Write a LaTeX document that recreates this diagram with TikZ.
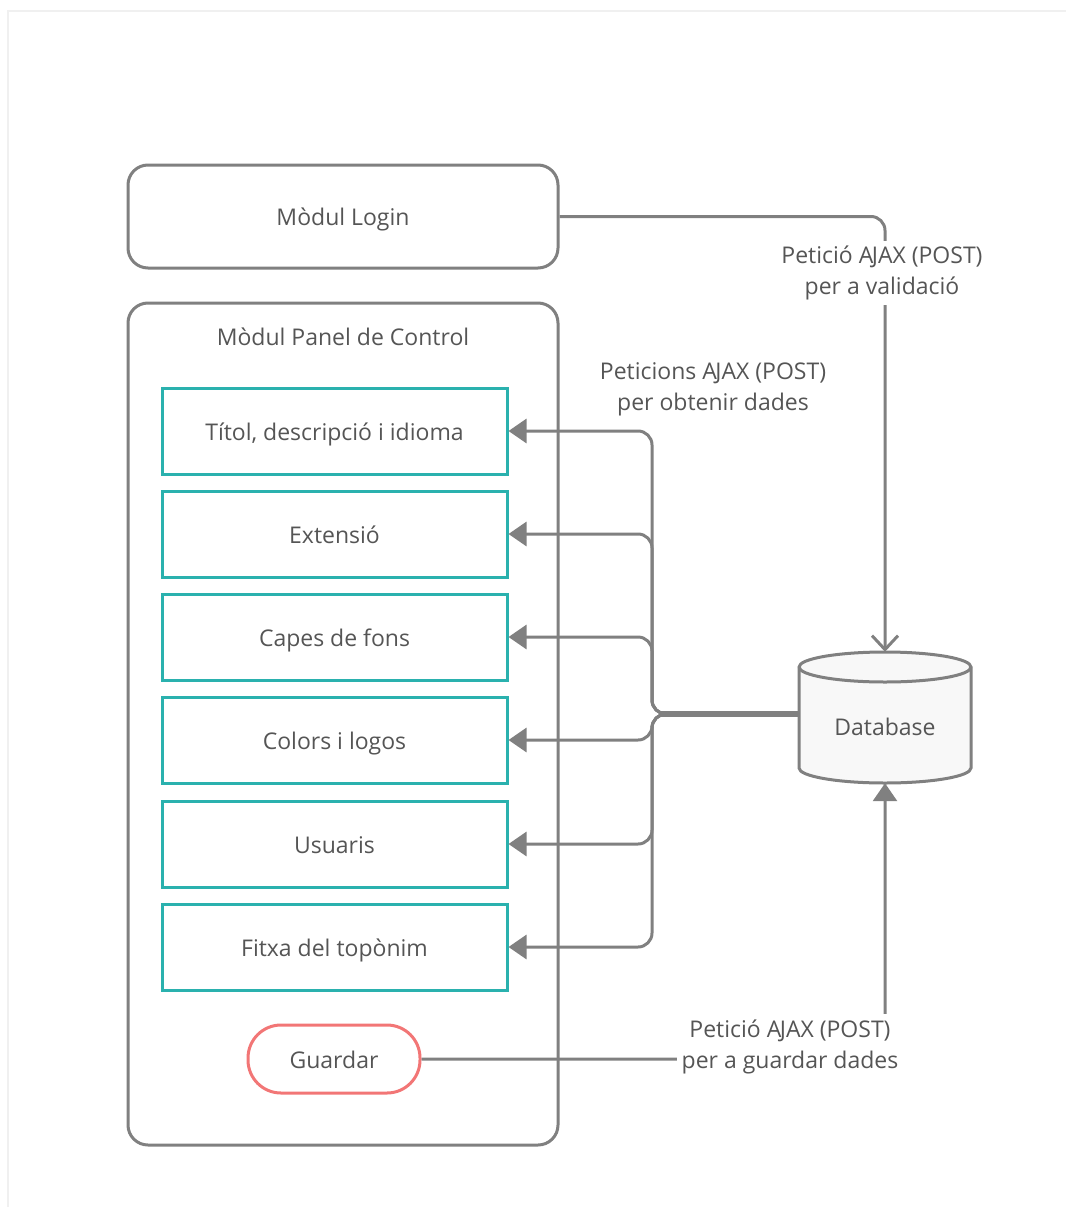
\documentclass[tikz,border=0pt]{standalone}
\usepackage{fontspec}
\setmainfont{Open Sans}
\usetikzlibrary{arrows.meta,calc}
\definecolor{lgray}{HTML}{808080}
\definecolor{tgray}{HTML}{555555}
\definecolor{teal2}{HTML}{2AB1AE}
\definecolor{red2}{HTML}{F27676}
\definecolor{dbfill}{HTML}{F8F8F8}
\definecolor{framec}{HTML}{F0F0F0}
\newcommand{\AJAX}{A\kern-1.5pt JAX}
\begin{document}
\begin{tikzpicture}[x=1pt,y=-1pt,
  fnt/.style={text=tgray,font=\fontsize{23}{31}\selectfont},
  one/.style={fnt,text height=18pt,text depth=0pt},
  txt/.style={fnt,align=center,inner sep=4pt},
  outerbox/.style={draw=lgray,line width=3pt,rounded corners=20pt,minimum width=430pt,inner sep=0pt},
  tealbox/.style={one,draw=teal2,line width=3pt,minimum width=345pt,minimum height=86pt,inner sep=0pt},
  conn/.style={draw=lgray,line width=3pt},
  fillarrow/.style={-{Triangle[length=18pt,width=24pt]}},
  openarrow/.style={-{Straight Barb[length=14pt,width=26pt,line width=3pt]}},
  lab/.style={txt,fill=white,inner sep=5pt}
]
\useasboundingbox (0,0) rectangle (1066,1207);
\draw[framec,line width=2pt] (8,1207) -- (8,11) -- (1066,11);

% outer boxes
\node[outerbox,one,minimum height=103pt] (login) at (343,216.5) {Mòdul Login};
\node[outerbox,minimum height=842pt] (panel) at (343,724) {};
\node[one,inner sep=0pt] (paneltitle) at (343,336) {Mòdul Panel de Control};

% teal boxes
\node[tealbox] (b1) at (334.5,431) {Títol, descripció i idioma};
\node[tealbox] (b2) at (334.5,534) {Extensió};
\node[tealbox] (b3) at (334.5,637) {Capes de fons};
\node[tealbox] (b4) at (334.5,740) {Colors i logos};
\node[tealbox] (b5) at (334.5,844) {Usuaris};
\node[tealbox] (b6) at (334.5,947) {Fitxa del topònim};

% guardar
\node[one,draw=red2,line width=3pt,rounded corners=33pt,minimum width=172pt,minimum height=68pt,inner sep=0pt] (guardar) at (334,1059) {Guardar};

% database
\node[minimum width=172pt,minimum height=131pt,inner sep=0pt] (db) at (885,717.5) {};
\filldraw[draw=lgray,fill=dbfill,line width=3pt] (799,667) -- (799,768) arc (180:0:86 and 15) -- (971,667) arc (0:-180:86 and 15) -- cycle;
\draw[lgray,line width=3pt] (799,667) arc (180:0:86 and 15);
\node[one,inner sep=0pt] (dblabel) at (885,726) {Database};

% junction
\coordinate (j) at (652,714);
\foreach \b in {b1,b2,b3,b4,b5,b6}{
  \draw[conn,fillarrow,rounded corners=14pt] (db.west |- j) -- (j) |- (\b.east);
}
\draw[lgray,line width=6pt] (db.west |- j) -- ($(j)+(8,0)$);

% login connector
\draw[conn,openarrow,rounded corners=14pt] (login.east) -| (db.north);
\node[lab] (l1) at (882,273) {Petició \AJAX{} (POST)\\per a validació};

% guardar connector
\draw[conn,fillarrow,rounded corners=14pt] (guardar.east) -| (db.south);
\node[lab] (l3) at (790,1046.5) {Petició \AJAX{} (POST)\\per a guardar dades};

\node[txt] (l2) at (713,389) {Peticions \AJAX{} (POST)\\per obtenir dades};
\end{tikzpicture}
\end{document}
